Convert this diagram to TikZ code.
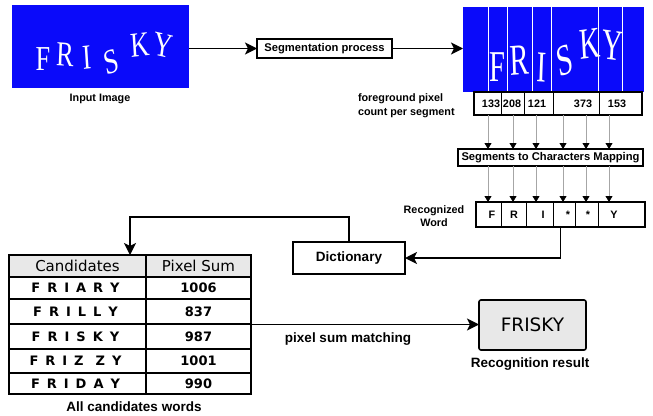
\documentclass[tikz,border=0pt]{standalone}
\usepackage{fontspec}
\setmainfont{Liberation Sans}
\newfontfamily\tabfont{DejaVu Sans}
\newfontfamily\handfont{Liberation Serif}
\usetikzlibrary{arrows.meta}

\definecolor{imgblue}{RGB}{10,10,250}
\definecolor{boxgray}{RGB}{232,232,232}

\newcommand\spreadword[1]{\spreadstep#1\relax}
\def\spreadstep#1{\ifx#1\relax\else\ifx#1-\kern-2pt\else#1\fi\kern7pt\expandafter\spreadstep\fi}

\begin{document}
\begin{tikzpicture}[x=1pt, y=-1pt,
  every node/.style={inner sep=0pt, outer sep=0pt},
  lbl/.style={font=\bfseries\fontsize{10.8}{13.5}\selectfont, align=center},
  bigl/.style={font=\bfseries\fontsize{13.5}{16}\selectfont},
  procbox/.style={draw, line width=1.6pt, font=\bfseries\fontsize{11.2}{13}\selectfont},
  flow/.style={line width=1.6pt, -{Stealth[length=12pt,width=12pt,inset=3pt]}},
  feed/.style={gray!70, line width=0.8pt, -{Triangle[length=6pt,width=7pt,color=black]}},
  hand/.style={text=white, transform shape, xscale=0.75, font=\handfont\fontsize{35}{35}\selectfont},
  bighand/.style={text=white, transform shape, xscale=0.65, font=\handfont\fontsize{44}{44}\selectfont},
  cell/.style={font=\tabfont\bfseries\fontsize{13}{15}\selectfont}]
\useasboundingbox (0,0) rectangle (653,415);

% input image
\node[fill=imgblue, minimum width=177pt, minimum height=83pt] (inimg) at (100.5,46.5) {};
\node[hand] (inF) at (43,59) {F};
\node[hand, rotate=-3] (inR) at (65,55) {R};
\node[hand, rotate=5] (inI) at (87,58) {I};
\node[hand, rotate=15] (inS) at (111,62) {S};
\node[hand, rotate=5] (inK) at (140,45) {K};
\node[hand, rotate=-10] (inY) at (163,45) {Y};
\node[lbl] (inlbl) at (100,99) {Input Image};

% segmentation
\node[procbox, minimum width=135pt, minimum height=19pt] (seg) at (324.5,48.5) {Segmentation process};
\draw[flow] (inimg.east |- seg) -- (seg);

% segmented image
\node[fill=imgblue, minimum width=181pt, minimum height=85pt] (segimg) at (553.5,49.5) {};
\foreach \x in {488,507,532,551,598,622}
  \draw[white, line width=0.8pt] (\x,7) -- (\x,92);
\node[bighand] (sgF) at (497,67) {F};
\node[bighand, rotate=3] (sgR) at (520,60) {R};
\node[bighand, rotate=-3] (sgI) at (542,67) {I};
\node[bighand, rotate=15] (sgS) at (565,60) {S};
\node[bighand, rotate=5] (sgK) at (590,44) {K};
\node[bighand, rotate=-5] (sgY) at (613,46) {Y};
\draw[flow] (seg) -- (seg -| segimg.west);

% pixel counts
\node[draw, line width=1.6pt, minimum width=168pt, minimum height=23pt] (counts) at (558,103.5) {};
\foreach \x in {501,524,553,599}
  \draw[line width=0.8pt] (\x,92) -- (\x,115);
\foreach \x/\c in {491/133, 512/208, 537/121, 583/373, 617/153}
  \node[lbl] (c\c) at (\x,104) {\c};
\node[lbl, anchor=west, align=left] (fglbl) at (358,105.5) {foreground pixel\\count per segment};

% mapping
\node[procbox, minimum width=185pt, minimum height=17pt] (mapbox) at (550.5,157.5) {Segments to Characters Mapping};

% recognized word
\node[draw, line width=1.6pt, minimum width=169pt, minimum height=25pt] (recbox) at (560.5,214.5) {};
\foreach \x in {501,526,553,575,598}
  \draw[line width=0.8pt] (\x,202) -- (\x,227);
\foreach \x/\l [count=\i] in {492/F, 514/R, 543/I, 568/*, 588/*, 614/Y}
  \node[lbl] (r\i) at (\x,214.5) {\l};
\node[lbl] (reclbl) at (434,216) {Recognized\\Word};

\foreach \x in {488,513,536,563,586,609} {
  \draw[feed] (\x,0 |- counts.south) -- (\x,0 |- mapbox.north);
  \draw[feed] (\x,0 |- mapbox.south) -- (\x,0 |- recbox.north);
}

% dictionary
\node[draw, line width=1.6pt, minimum width=112pt, minimum height=32pt, font=\bfseries\fontsize{13.5}{16}\selectfont] (dict) at (349,258) {Dictionary};
\draw[flow] (recbox.south) |- (dict);

% candidates table
\fill[boxgray] (9,255) rectangle (251,277);
\node[draw, line width=1.6pt, minimum width=242pt, minimum height=139pt] (cands) at (130,324.5) {};
\foreach \y in {277,299,324,349,373}
  \draw[line width=1.2pt] (9,\y) -- (251,\y);
\draw[line width=1.2pt] (146,255) -- (146,394);
\node[font=\tabfont\fontsize{15}{17}\selectfont] (hcand) at (77.5,266) {Candidates};
\node[font=\tabfont\fontsize{15}{17}\selectfont] (hsum) at (198.5,266) {Pixel Sum};
\foreach \w/\n/\y in {FRIARY/1006/288, FRILLY/837/311.5, FRISKY/987/336.5, FRIZ-ZY/1001/361, FRIDAY/990/383.5} {
  \node[cell] (w\n) at (79,\y) {\expandafter\spreadword\expandafter{\w}};
  \node[cell] (n\n) at (198.5,\y) {\n};
}
\node[bigl] (allbl) at (134,407) {All candidates words};
\draw[flow] (dict.north) -- ++(0,-25) -| (cands.north);

% result
\node[draw, fill=boxgray, line width=1.6pt, rounded corners=2pt, minimum width=107pt, minimum height=50pt, font=\tabfont\fontsize{18.5}{20}\selectfont] (result) at (532.5,325) {FRISKY};
\draw[flow] (cands.east) -- (cands.east -| result.west);
\node[bigl] (matchlbl) at (348,339) {pixel sum matching};
\node[bigl] (reslbl) at (530,364) {Recognition result};
\end{tikzpicture}
\end{document}
